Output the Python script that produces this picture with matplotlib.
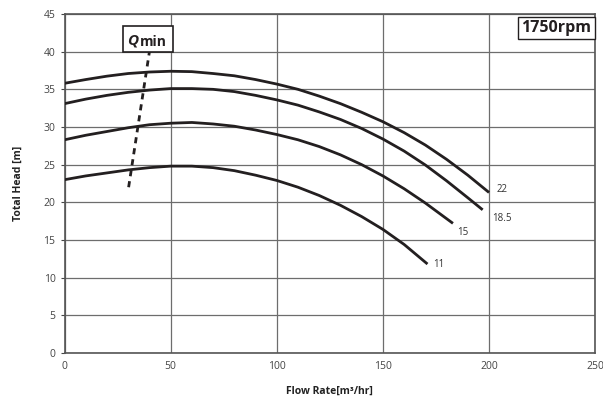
"""Pump performance curves (total head vs flow rate) at 1750 rpm."""

import matplotlib
matplotlib.use("Agg")
import matplotlib.pyplot as plt
from matplotlib.patches import Rectangle

plt.rcParams["font.family"] = ["Open Sans", "DejaVu Sans"]

# Flow rate [m³/hr] and head [m] for each impeller size
FLOW_22 = [0, 10, 20, 30, 40, 50, 60, 70, 80, 90, 100, 110, 120, 130, 140, 150, 160, 170, 180, 190, 200]
HEAD_22 = [35.8, 36.3, 36.75, 37.1, 37.3, 37.4, 37.35, 37.1, 36.8, 36.3, 35.7, 35.0, 34.1, 33.1, 31.95,
           30.7, 29.25, 27.6, 25.7, 23.6, 21.3]

FLOW_185 = [0, 10, 20, 30, 40, 50, 60, 70, 80, 90, 100, 110, 120, 130, 140, 150, 160, 170, 180, 190, 197]
HEAD_185 = [33.1, 33.7, 34.2, 34.6, 34.9, 35.1, 35.1, 35.0, 34.7, 34.2, 33.6, 32.9, 32.0, 31.0, 29.8,
            28.4, 26.8, 24.95, 22.85, 20.6, 19.0]

FLOW_15 = [0, 10, 20, 30, 40, 50, 60, 70, 80, 90, 100, 110, 120, 130, 140, 150, 160, 170, 183]
HEAD_15 = [28.3, 28.9, 29.4, 29.9, 30.3, 30.5, 30.6, 30.4, 30.1, 29.6, 29.0, 28.3, 27.4, 26.3, 25.0,
           23.5, 21.8, 19.9, 17.2]

FLOW_11 = [0, 10, 20, 30, 40, 50, 60, 70, 80, 90, 100, 110, 120, 130, 140, 150, 160, 171]
HEAD_11 = [23.0, 23.5, 23.9, 24.3, 24.6, 24.8, 24.8, 24.6, 24.2, 23.6, 22.9, 22.0, 20.9, 19.6, 18.1,
           16.4, 14.4, 11.8]

CURVE_LABELS = ["22", "18.5", "15", "11"]
LABEL_POS = [(203.5, 21.7), (201.5, 17.9), (185, 16.0), (173.5, 11.7)]

QMIN_FLOW = [30.2, 40.0]
QMIN_HEAD = [22.0, 40.0]

X_TICKS = [0, 50, 100, 150, 200, 250]
Y_TICKS = [0, 5, 10, 15, 20, 25, 30, 35, 40, 45]

fig = plt.figure(figsize=(6.03, 4.01), dpi=100)
ax = fig.add_axes([0.107, 0.120, 0.880, 0.845])

curve_kw = dict(color="#231f20", linewidth=2.0, solid_capstyle="butt", solid_joinstyle="round", zorder=3)
for flow, head in [(FLOW_22, HEAD_22), (FLOW_185, HEAD_185), (FLOW_15, HEAD_15), (FLOW_11, HEAD_11)]:
    ax.plot(flow, head, **curve_kw)

for label, (x, y) in zip(CURVE_LABELS, LABEL_POS):
    ax.text(x, y, label, fontsize=7, color="#333333", ha="left", va="center")

ax.plot(QMIN_FLOW, QMIN_HEAD, color="#231f20", linewidth=2.0, linestyle=(0, (2.2, 1.8)), zorder=3)

# Qmin box
ax.add_patch(Rectangle((27.4, 39.9), 23.6, 3.5, facecolor="white", edgecolor="#231f20",
                       linewidth=1.2, zorder=5, clip_on=False))
ax.text(29.5, 41.55, "Q", fontsize=11, fontweight="bold", fontstyle="italic",
        ha="left", va="center", zorder=6, color="#231f20")
ax.text(35.3, 41.3, "min", fontsize=10, fontweight="bold", ha="left", va="center",
        zorder=6, color="#231f20")

# rpm box
ax.text(0.993, 0.958, "1750rpm", transform=ax.transAxes, fontsize=11.5, fontweight="bold",
        ha="right", va="center", color="#231f20", zorder=6,
        bbox=dict(boxstyle="square,pad=0.2", facecolor="white", edgecolor="#231f20", linewidth=1.0))

ax.set_xlim(0, 250)
ax.set_ylim(0, 45)
ax.set_xticks(X_TICKS)
ax.set_yticks(Y_TICKS)
ax.grid(True, color="#6d6d6d", linewidth=0.9)
ax.set_axisbelow(True)
for spine in ax.spines.values():
    spine.set_color("#555555")
    spine.set_linewidth(1.2)
ax.tick_params(axis="both", labelsize=7.5, colors="#444444", length=3, width=0.8)
ax.tick_params(axis="x", length=0, pad=6)

ax.set_xlabel("Flow Rate[m³/hr]", fontsize=7.5, fontweight="bold", labelpad=10, color="#222222")
ax.set_ylabel("Total Head [m]", fontsize=7.5, fontweight="bold", labelpad=14, color="#222222")

fig.savefig("out.png", dpi=100)
